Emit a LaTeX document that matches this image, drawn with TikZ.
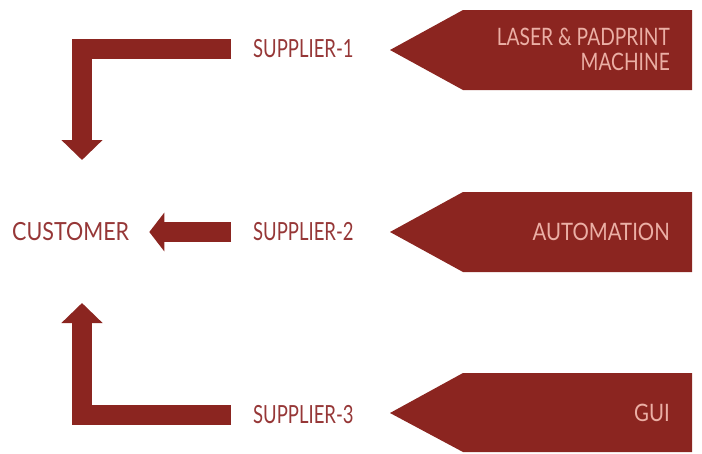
\documentclass[tikz,border=0pt]{standalone}
\usepackage{fontspec}
\setmainfont{Lato}
\usetikzlibrary{arrows.meta}
\definecolor{brick}{RGB}{139,37,32}
\definecolor{labelred}{RGB}{150,55,55}
\definecolor{pink}{RGB}{235,175,165}
\begin{document}
\begin{tikzpicture}[x=1pt,y=-1pt,
  lbl/.style={inner sep=0pt,text=labelred,font=\fontsize{25}{25}\selectfont},
  intext/.style={inner sep=0pt,text=pink,font=\fontsize{24}{25}\selectfont,align=right},
  pent/.style={fill=brick},
  bar/.style={draw=brick,line width=20pt,line join=miter}]
\useasboundingbox (0,0) rectangle (702,453);
% pentagons
\fill[pent] (692,10) -- (463,10) -- (390,50) -- (463,90) -- (692,90) -- cycle;
\fill[pent] (692,192) -- (463,192) -- (390,232) -- (463,272) -- (692,272) -- cycle;
\fill[pent] (692,373) -- (463,373) -- (390,413) -- (463,452) -- (692,452) -- cycle;
\node[intext,anchor=east] (laser) at (670,49) {\scalebox{0.8}[1]{LASER \& PADPRINT}\\\scalebox{0.8}[1]{MACHINE}};
\node[intext,anchor=east] (auto) at (670,232) {\scalebox{0.85}[1]{AUTOMATION}};
\node[intext,anchor=east] (gui) at (670,413) {\scalebox{0.85}[1]{GUI}};
% labels
\node[lbl,anchor=west] (sup1) at (253,49) {\scalebox{0.74}[1]{SUPPLIER-1}};
\node[lbl,anchor=west] (sup2) at (253,232) {\scalebox{0.74}[1]{SUPPLIER-2}};
\node[lbl,anchor=west] (sup3) at (253,415) {\scalebox{0.74}[1]{SUPPLIER-3}};
\node[lbl,anchor=west] (cust) at (12,232) {\scalebox{0.86}[1]{CUSTOMER}};
% connector ends
\coordinate (top1) at (82,160);
\coordinate (bot3) at (82,303);
% arrows
\draw[bar,-{Triangle[length=20pt,width=40pt]}] ([xshift=-22pt]sup1.west) -| (top1);
\draw[bar,-{Triangle[length=15pt,width=38pt]}] ([xshift=-22pt]sup2.west) -- ([xshift=20pt]cust.east);
\draw[bar,-{Triangle[length=20pt,width=40pt]}] ([xshift=-22pt]sup3.west) -| (bot3);
\end{tikzpicture}
\end{document}
